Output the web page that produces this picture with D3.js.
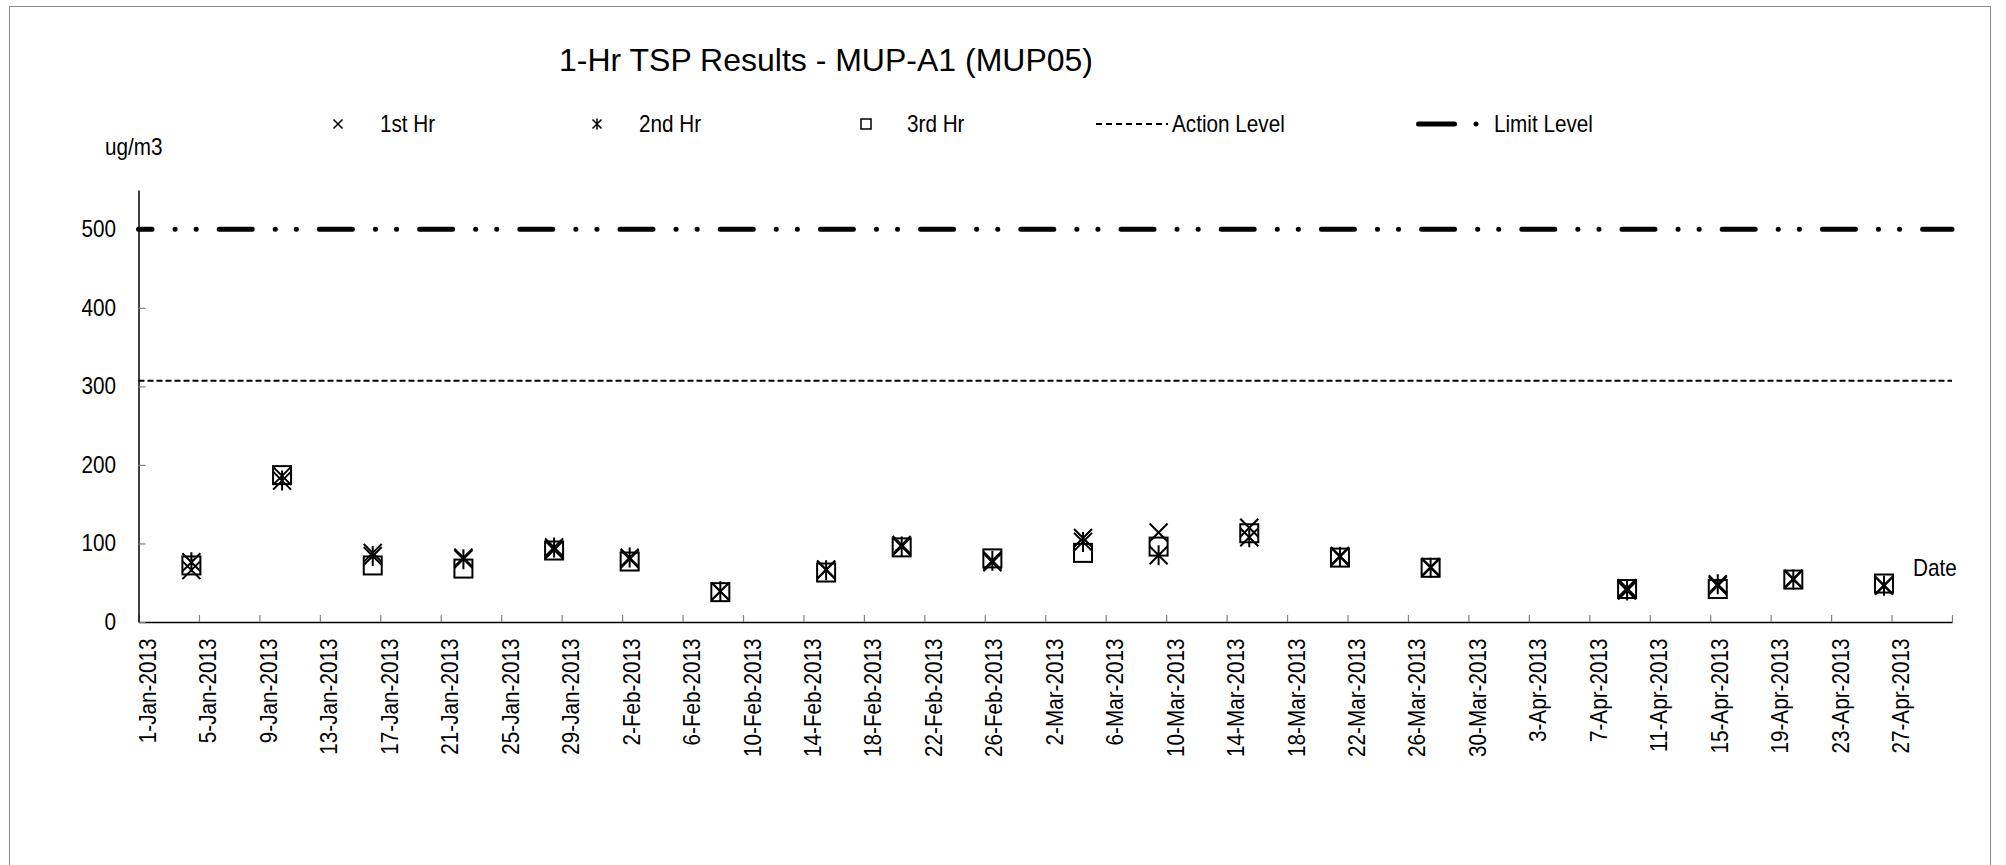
<!DOCTYPE html>
<html>
<head>
<meta charset="utf-8">
<script src="https://cdn.jsdelivr.net/npm/d3@7"></script>
<style>
  body { margin: 0; background: #fff; }
  svg { display: block; font-family: "Liberation Sans", Arial, sans-serif; }
</style>
</head>
<body>
<svg id="chart" width="2006" height="865"></svg>
<script>
const sampleDates = ['2013-01-04', '2013-01-10', '2013-01-16', '2013-01-22', '2013-01-28',
  '2013-02-02', '2013-02-08', '2013-02-15', '2013-02-20', '2013-02-26',
  '2013-03-04', '2013-03-09', '2013-03-15', '2013-03-21', '2013-03-27',
  '2013-04-09', '2013-04-15', '2013-04-20', '2013-04-26'];
const firstHr = [66, 186, 88, 82, 92, 80, 39, 67, 98, 76, 107, 114, 120, 84, 70, 43, 46, 55, 47];
const secondHr = [76, 180, 84, 80, 95, 82, 39, 66, 96, 78, 102, 85, 108, 83, 69, 40, 48, 54, 46];
const thirdHr = [72, 187, 72, 68, 91, 77, 38, 63, 95, 81, 88, 96, 113, 82, 69, 42, 42, 54, 49];
const actionLevel = 307;
const limitLevel = 500;
const yTicks = [0, 100, 200, 300, 400, 500];
const xDomain = ['2013-01-01', '2013-05-01'];
const tickStepDays = 4;

const parseDate = d3.timeParse('%Y-%m-%d');
const formatDate = d3.timeFormat('%-d-%b-%Y');
const svg = d3.select('#chart');

// text in the original is a bit narrow and tall
const FONT = '23px';
const SQUEEZE = 0.9;

const x = d3.scaleTime()
  .domain(xDomain.map(parseDate))
  .range([138.5, 1952]);
const y = d3.scaleLinear().domain([0, 550]).range([622, 190]);

// marker shapes, excel style
const crossPath = s => `M${-s},${-s}L${s},${s}M${s},${-s}L${-s},${s}`;
const starPath = s => crossPath(s) + `M0,${-s - 1}L0,${s + 1}`;

/**
 * Appends a squeezed text label at a given place.
 *
 * @param {*} parent Selection to append into
 * @param {number} px Left (or anchor) x position
 * @param {number} py Baseline y position
 * @param {string} txt The text
 */
function addText(parent, px, py, txt) {
  return parent.append('text')
    .attr('transform', `translate(${px}, ${py}) scale(${SQUEEZE}, 1)`)
    .style('font-size', FONT)
    .text(txt);
}

/**
 * Draws the grey chart area border.
 */
function drawFrame() {
  svg.append('rect')
    .attr('x', 9.5).attr('y', 6.5)
    .attr('width', 1981).attr('height', 920)
    .attr('fill', 'none')
    .attr('stroke', '#8c8c8c');
}

/**
 * Draws the x (date) and y axes with inside ticks.
 */
function drawAxes() {
  const ticks = d3.timeDay.range(x.domain()[0], d3.timeDay.offset(x.domain()[1], 1), tickStepDays);

  const gx = svg.append('g')
    .attr('class', 'x axis')
    .attr('transform', `translate(0, ${y(0)})`)
    .call(d3.axisBottom(x)
      .tickValues(ticks)
      .tickSizeInner(-7)
      .tickSizeOuter(0)
      .tickFormat(d => +d === +x.domain()[1] ? '' : formatDate(d)));

  gx.selectAll('text')
    .attr('transform', `rotate(-90) scale(${SQUEEZE}, 1)`)
    .attr('text-anchor', 'end')
    .attr('x', -16.5 / SQUEEZE)
    .attr('y', 17)
    .attr('dy', null)
    .style('font-size', FONT)
    .attr('fill', '#000');

  const gy = svg.append('g')
    .attr('class', 'y axis')
    .attr('transform', `translate(${x.range()[0]}, 0)`)
    .call(d3.axisLeft(y)
      .tickValues(yTicks)
      .tickSizeInner(-7)
      .tickSizeOuter(0)
      .tickPadding(22.5 / SQUEEZE));

  gy.selectAll('text')
    .attr('transform', `scale(${SQUEEZE}, 1)`)
    .style('font-size', FONT)
    .attr('fill', '#000');

  svg.selectAll('.axis .domain').attr('stroke', '#000').attr('stroke-width', 1.5);
  svg.selectAll('.axis .tick line').attr('stroke', '#808080').attr('stroke-width', 1.2);
}

/**
 * Draws the action level and limit level lines across the plot.
 */
function drawLevels() {
  svg.append('line')
    .attr('x1', x.range()[0]).attr('x2', x.range()[1])
    .attr('y1', y(actionLevel)).attr('y2', y(actionLevel))
    .attr('stroke', '#000')
    .attr('stroke-width', 2)
    .attr('stroke-dasharray', '6,3');

  svg.append('line')
    .attr('x1', x.range()[0]).attr('x2', x.range()[1])
    .attr('y1', y(limitLevel)).attr('y2', y(limitLevel))
    .attr('stroke', '#000')
    .attr('stroke-width', 5)
    .attr('stroke-linecap', 'round')
    .attr('stroke-dasharray', '33,23,0.1,21,0.1,23')
    .attr('stroke-dashoffset', 19.5);
}

/**
 * Draws one series of markers. Points sit in the middle of their day.
 *
 * @param {number[]} values The series values
 * @param {string} shape 'cross', 'star' or 'square'
 */
function drawSeries(values, shape) {
  const data = sampleDates.map((d, i) => ({ date: parseDate(d), value: values[i] }));
  const g = svg.append('g').attr('class', 'series-' + shape);

  const marks = g.selectAll('.mark')
    .data(data)
    .enter()
    .append('g')
    .attr('class', 'mark')
    .attr('transform', d => `translate(${x(d3.timeHour.offset(d.date, 12))}, ${y(d.value)})`);

  if (shape === 'square') {
    marks.append('rect')
      .attr('x', -9).attr('y', -9)
      .attr('width', 18).attr('height', 18)
      .attr('fill', 'none')
      .attr('stroke', '#000')
      .attr('stroke-width', 2);
  } else {
    marks.append('path')
      .attr('d', shape === 'star' ? starPath(9) : crossPath(9))
      .attr('fill', 'none')
      .attr('stroke', '#000')
      .attr('stroke-width', 2);
  }
}

/**
 * Title, unit label, axis name and the legend row.
 */
function drawLabels() {
  svg.append('text')
    .attr('x', 826).attr('y', 71)
    .attr('text-anchor', 'middle')
    .style('font-size', '32px')
    .text('1-Hr TSP Results - MUP-A1 (MUP05)');

  addText(svg, 105, 155, 'ug/m3');
  addText(svg, 1913, 576, 'Date');

  const legend = svg.append('g').attr('class', 'legend').attr('transform', 'translate(0, 124)');
  const items = [
    { name: '1st Hr', kind: 'cross', mx: 338, tx: 380 },
    { name: '2nd Hr', kind: 'star', mx: 597, tx: 639 },
    { name: '3rd Hr', kind: 'square', mx: 866, tx: 907 }
  ];

  items.forEach(it => {
    if (it.kind === 'square') {
      legend.append('rect')
        .attr('x', it.mx - 5).attr('y', -5)
        .attr('width', 10).attr('height', 10)
        .attr('fill', 'none').attr('stroke', '#000').attr('stroke-width', 1.5);
    } else {
      legend.append('path')
        .attr('transform', `translate(${it.mx}, 0)`)
        .attr('d', it.kind === 'star' ? starPath(4.5) : crossPath(4.5))
        .attr('stroke', '#000').attr('stroke-width', 1.5);
    }
    addText(legend, it.tx, 8, it.name);
  });

  legend.append('line')
    .attr('x1', 1096).attr('x2', 1168)
    .attr('stroke', '#000').attr('stroke-width', 2)
    .attr('stroke-dasharray', '6,4');
  addText(legend, 1172, 8, 'Action Level');

  legend.append('line')
    .attr('x1', 1418.5).attr('x2', 1454.5)
    .attr('stroke', '#000').attr('stroke-width', 5)
    .attr('stroke-linecap', 'round');
  legend.append('circle')
    .attr('cx', 1476).attr('r', 2.5)
    .attr('fill', '#000');
  addText(legend, 1494, 8, 'Limit Level');
}

drawFrame();
drawAxes();
drawLevels();
drawSeries(firstHr, 'cross');
drawSeries(secondHr, 'star');
drawSeries(thirdHr, 'square');
drawLabels();
</script>
</body>
</html>
